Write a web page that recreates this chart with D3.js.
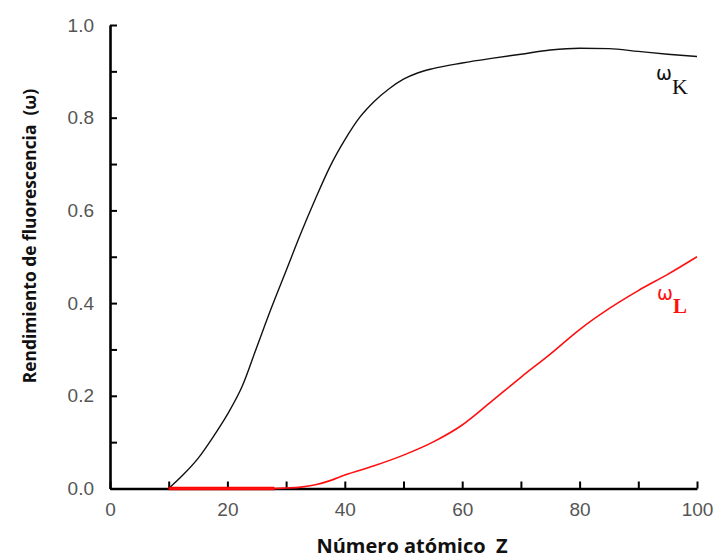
<!DOCTYPE html>
<html>
<head>
<meta charset="utf-8">
<script src="https://cdn.jsdelivr.net/npm/d3@7"></script>
<style>
  body { margin: 0; background: #fff; }
  svg { display: block; }
  .tick text { font-family: "Liberation Sans", Arial, sans-serif; fill: #555; }
  .ttl { font-family: "Open Sans", sans-serif; font-weight: bold; fill: #111; }
</style>
</head>
<body>
<div id="chart"></div>
<script>
// atomic number Z and fluorescence yields
const zK = [10, 12.5, 15, 17.5, 20, 22.5, 25, 27.5, 30, 32.5, 35, 37.5, 40, 42.5, 45, 47.5, 50, 52.5, 55, 60, 65, 70, 75, 80, 85, 90, 95, 100];
const omegaK = [0, 0.03, 0.065, 0.11, 0.16, 0.22, 0.305, 0.39, 0.47, 0.55, 0.625, 0.695, 0.752, 0.8, 0.835, 0.862, 0.883, 0.897, 0.906, 0.918, 0.928, 0.937, 0.946, 0.95, 0.949, 0.943, 0.937, 0.932];
const zL = [10, 20, 28, 30, 32.5, 35, 37.5, 40, 45, 50, 55, 60, 65, 70, 75, 80, 85, 90, 95, 100];
const omegaL = [0, 0, 0, 0.001, 0.003, 0.008, 0.017, 0.029, 0.049, 0.072, 0.1, 0.137, 0.188, 0.24, 0.29, 0.343, 0.388, 0.427, 0.462, 0.5];
const xTicks = [0, 20, 40, 60, 80, 100];
const yTicks = [0, 0.2, 0.4, 0.6, 0.8, 1.0];

const W = 714, H = 560;
const MARGIN = { top: 25, right: 17, bottom: 71.5, left: 110 };

const svg = d3.select("#chart").append("svg")
    .attr("width", W)
    .attr("height", H);

const x = d3.scaleLinear().domain([0, 100]).range([MARGIN.left, W - MARGIN.right]);
const y = d3.scaleLinear().domain([0, 1]).range([H - MARGIN.bottom, MARGIN.top]);

// axes: ticks every 10 / 0.1 pointing inward, labels every other one
const xAxis = d3.axisBottom(x).tickValues(d3.range(0, 101, 10)).tickSizeInner(-7).tickSizeOuter(0)
    .tickPadding(14).tickFormat(d => xTicks.includes(d) ? d : "");
const yAxis = d3.axisLeft(y).tickValues(d3.range(0, 1.01, 0.1)).tickSizeInner(-7).tickSizeOuter(0)
    .tickPadding(16).tickFormat(d => yTicks.some(t => Math.abs(t - d) < 1e-6) ? d3.format(".1f")(d) : "");

const gx = svg.append("g").attr("transform", `translate(0,${y(0)})`).call(xAxis);
const gy = svg.append("g").attr("transform", `translate(${x(0)},0)`).call(yAxis);
[gx, gy].forEach(g => {
    g.select(".domain").attr("stroke", "#000").attr("stroke-width", 2.6);
    g.selectAll(".tick line").attr("stroke", "#000").attr("stroke-width", 2);
    g.selectAll(".tick text").attr("font-size", 19);
});

const line = d3.line().x(d => x(d[0])).y(d => y(d[1])).curve(d3.curveMonotoneX);

const kData = zK.map((z, i) => [z, omegaK[i]]);
const lData = zL.map((z, i) => [z, omegaL[i]]);

svg.append("path")
    .attr("d", line(kData))
    .attr("fill", "none")
    .attr("stroke", "#111")
    .attr("stroke-width", 1.4);

// flat part of the L curve lies on the axis and hides it
svg.append("path")
    .attr("d", line(lData.filter(d => d[1] === 0)))
    .attr("fill", "none")
    .attr("stroke", "#ff0000")
    .attr("stroke-width", 3.6);

svg.append("path")
    .attr("d", line(lData))
    .attr("fill", "none")
    .attr("stroke", "#ff1010")
    .attr("stroke-width", 1.6);

// curve labels
const kLab = svg.append("text").attr("x", 656).attr("y", 80).attr("fill", "#111");
kLab.append("tspan").attr("font-family", "'DejaVu Sans', sans-serif").attr("font-size", 19).text("ω");
kLab.append("tspan").attr("font-family", "'Liberation Serif', serif").attr("font-size", 22).attr("dy", 14).text("K");

const lLab = svg.append("text").attr("x", 657).attr("y", 300).attr("fill", "#ff1010");
lLab.append("tspan").attr("font-family", "'DejaVu Sans', sans-serif").attr("font-size", 19).text("ω");
lLab.append("tspan").attr("font-family", "'Liberation Serif', serif").attr("font-size", 21).attr("font-weight", "bold").attr("dy", 13).text("L");

// axis titles
svg.append("text")
    .attr("class", "ttl")
    .attr("transform", `translate(36,236) rotate(-90)`)
    .attr("text-anchor", "middle")
    .attr("font-size", 17.4)
    .attr("xml:space", "preserve")
    .text("Rendimiento de fluorescencia  (ω)");

svg.append("text")
    .attr("class", "ttl")
    .attr("x", 412)
    .attr("y", 553)
    .attr("text-anchor", "middle")
    .attr("font-size", 20)
    .attr("xml:space", "preserve")
    .text("Número atómico  Z");
</script>
</body>
</html>
